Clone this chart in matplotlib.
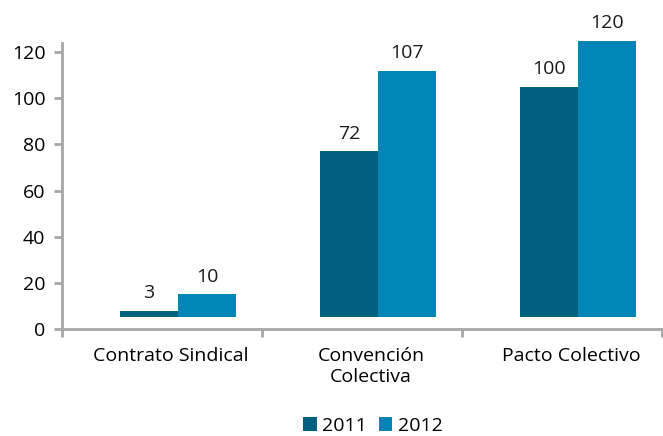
import numpy as np
import matplotlib.pyplot as plt

plt.rcParams['font.family'] = ['Open Sans', 'DejaVu Sans']

categorias = ['Contrato Sindical', 'Convención\nColectiva', 'Pacto Colectivo']
anios = ['2011', '2012']
v2011 = [3, 72, 100]
v2012 = [10, 107, 120]
colores = ['#00607F', '#0086B6']

base = 5      # las barras arrancan un poco por encima del eje
ancho = 0.29
desp = 0.08

fig = plt.figure(figsize=(6.63, 4.36), dpi=100)
ax = fig.add_axes([62 / 663, 107 / 436, 600 / 663, 286 / 436])

x = np.arange(len(categorias))
for j, (vals, col, lab) in enumerate(zip([v2011, v2012], colores, anios)):
    pos = x + desp + (j - 0.5) * ancho
    bars = ax.bar(pos, vals, ancho, bottom=base, color=col, label=lab, clip_on=False)
    for b, v in zip(bars, vals):
        ax.annotate(str(v), (b.get_x() + b.get_width() / 2, v + base),
                    xytext=(0, 6), textcoords='offset points',
                    ha='center', va='bottom', fontsize=14, color='#1a1a1a',
                    annotation_clip=False)

ax.set_xlim(-0.5, 2.5)
ax.set_ylim(0, 124)
ax.set_yticks(range(0, 121, 20))
ax.set_xticks(x + 0.045)
ax.set_xticklabels(categorias)
ax.set_xticks(np.arange(-0.5, 2.6, 1), minor=True)
ax.tick_params(axis='x', which='major', length=0, pad=13, labelsize=14)
ax.tick_params(axis='x', which='minor', length=6, width=2, color='#A6A6A6')
ax.tick_params(axis='y', length=6, width=2, color='#A6A6A6', labelsize=14, pad=6)

for s in ['top', 'right']:
    ax.spines[s].set_visible(False)
for s in ['left', 'bottom']:
    ax.spines[s].set_color('#A6A6A6')
    ax.spines[s].set_linewidth(2)

h, l = ax.get_legend_handles_labels()
fig.legend(h, l, loc='center', bbox_to_anchor=(373 / 663, 1 - 426 / 436), ncol=2,
           frameon=False, fontsize=14, handlelength=0.7, handleheight=0.7,
           handletextpad=0.3, columnspacing=0.6, borderpad=0)

fig.savefig('out.png', dpi=100)
